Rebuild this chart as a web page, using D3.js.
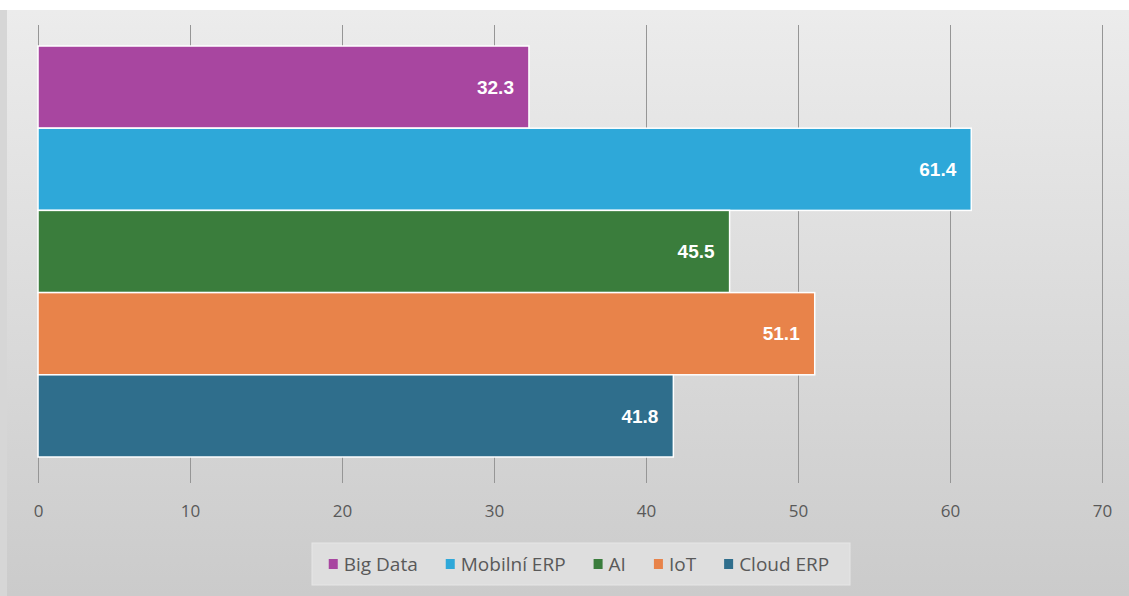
<!DOCTYPE html>
<html><head><meta charset="utf-8">
<script src="https://cdn.jsdelivr.net/npm/d3@7"></script>
<style>html,body{margin:0;padding:0;background:#fff;}svg{display:block;}</style>
</head><body>
<svg id="c" width="1129" height="596"></svg>
<script>
const categories = ["Big Data", "Mobilní ERP", "AI", "IoT", "Cloud ERP"];
const values = [32.3, 61.4, 45.5, 51.1, 41.8];
const colors = ["#a846a0", "#2ea8d9", "#3a7d3c", "#e8834a", "#2f6e8c"];
const tickValues = [0, 10, 20, 30, 40, 50, 60, 70];

const svg = d3.select("#c");
const defs = svg.append("defs");
const g1 = defs.append("linearGradient").attr("id","bg").attr("x1",0).attr("y1",0).attr("x2",0).attr("y2",1);
g1.append("stop").attr("offset","0%").attr("stop-color","#ececec");
g1.append("stop").attr("offset","100%").attr("stop-color","#cbcbcb");

svg.append("rect").attr("x",0).attr("y",10).attr("width",1129).attr("height",586).attr("fill","#d6d6d6");
svg.append("rect").attr("x",7).attr("y",10).attr("width",1122).attr("height",586).attr("fill","url(#bg)");

const x = d3.scaleLinear().domain([0,70]).range([38,1102]);
const y = d3.scaleBand().domain(categories).range([46,457]).padding(0);

// gridlines
svg.append("g").selectAll("line").data(tickValues).join("line")
  .attr("x1",d=>x(d)).attr("x2",d=>x(d)).attr("y1",25).attr("y2",483)
  .attr("stroke","#969696").attr("stroke-width",1).attr("shape-rendering","crispEdges");

// axis labels
const axis = d3.axisBottom(x).tickValues(tickValues).tickSize(0).tickPadding(0);
const ag = svg.append("g").attr("transform","translate(0,512)").call(axis);
ag.select(".domain").remove();
ag.selectAll("text").attr("font-family","'Open Sans', 'Noto Sans', sans-serif").attr("font-size",17)
  .attr("fill","#595959").attr("dy","0.32em");

// bars
svg.append("g").selectAll("rect").data(categories).join("rect")
  .attr("x",x(0)).attr("y",d=>y(d)).attr("width",(d,i)=>x(values[i])-x(0)).attr("height",y.bandwidth())
  .attr("fill",(d,i)=>colors[i]).attr("stroke","#ffffff").attr("stroke-width",1.5);

// labels
svg.append("g").selectAll("text").data(categories).join("text")
  .attr("x",(d,i)=>x(values[i])-15).attr("y",d=>y(d)+y.bandwidth()/2)
  .attr("dy","0.35em").attr("text-anchor","end")
  .attr("font-family","'Liberation Sans', Arial, sans-serif").attr("font-weight","bold").attr("font-size",19)
  .attr("fill","#ffffff").text((d,i)=>values[i].toFixed(1));

// legend
const lg = svg.append("g");
lg.append("rect").attr("x",312).attr("y",543).attr("width",538).attr("height",42)
  .attr("fill","#dedede").attr("stroke","#e6e6e6");
const items = lg.selectAll("g").data(categories).join("g");
const texts = [];
items.each(function(d,i){
  const gg = d3.select(this);
  gg.append("rect").attr("y",559).attr("width",9).attr("height",10).attr("fill",colors[i]);
  const t = gg.append("text").attr("y",564).attr("dy","0.35em")
    .attr("font-family","'Open Sans', 'Noto Sans', sans-serif").attr("font-size",19).attr("fill","#595959").text(d);
  texts.push(t.node().getComputedTextLength());
});
const gap = 28, sq = 15;
const total = d3.sum(texts) + texts.length*sq + (texts.length-1)*gap;
let cx = 579 - total/2;
items.each(function(d,i){
  const gg = d3.select(this);
  gg.select("rect").attr("x",cx);
  gg.select("text").attr("x",cx+sq);
  cx += sq + texts[i] + gap;
});
</script>
</body></html>
